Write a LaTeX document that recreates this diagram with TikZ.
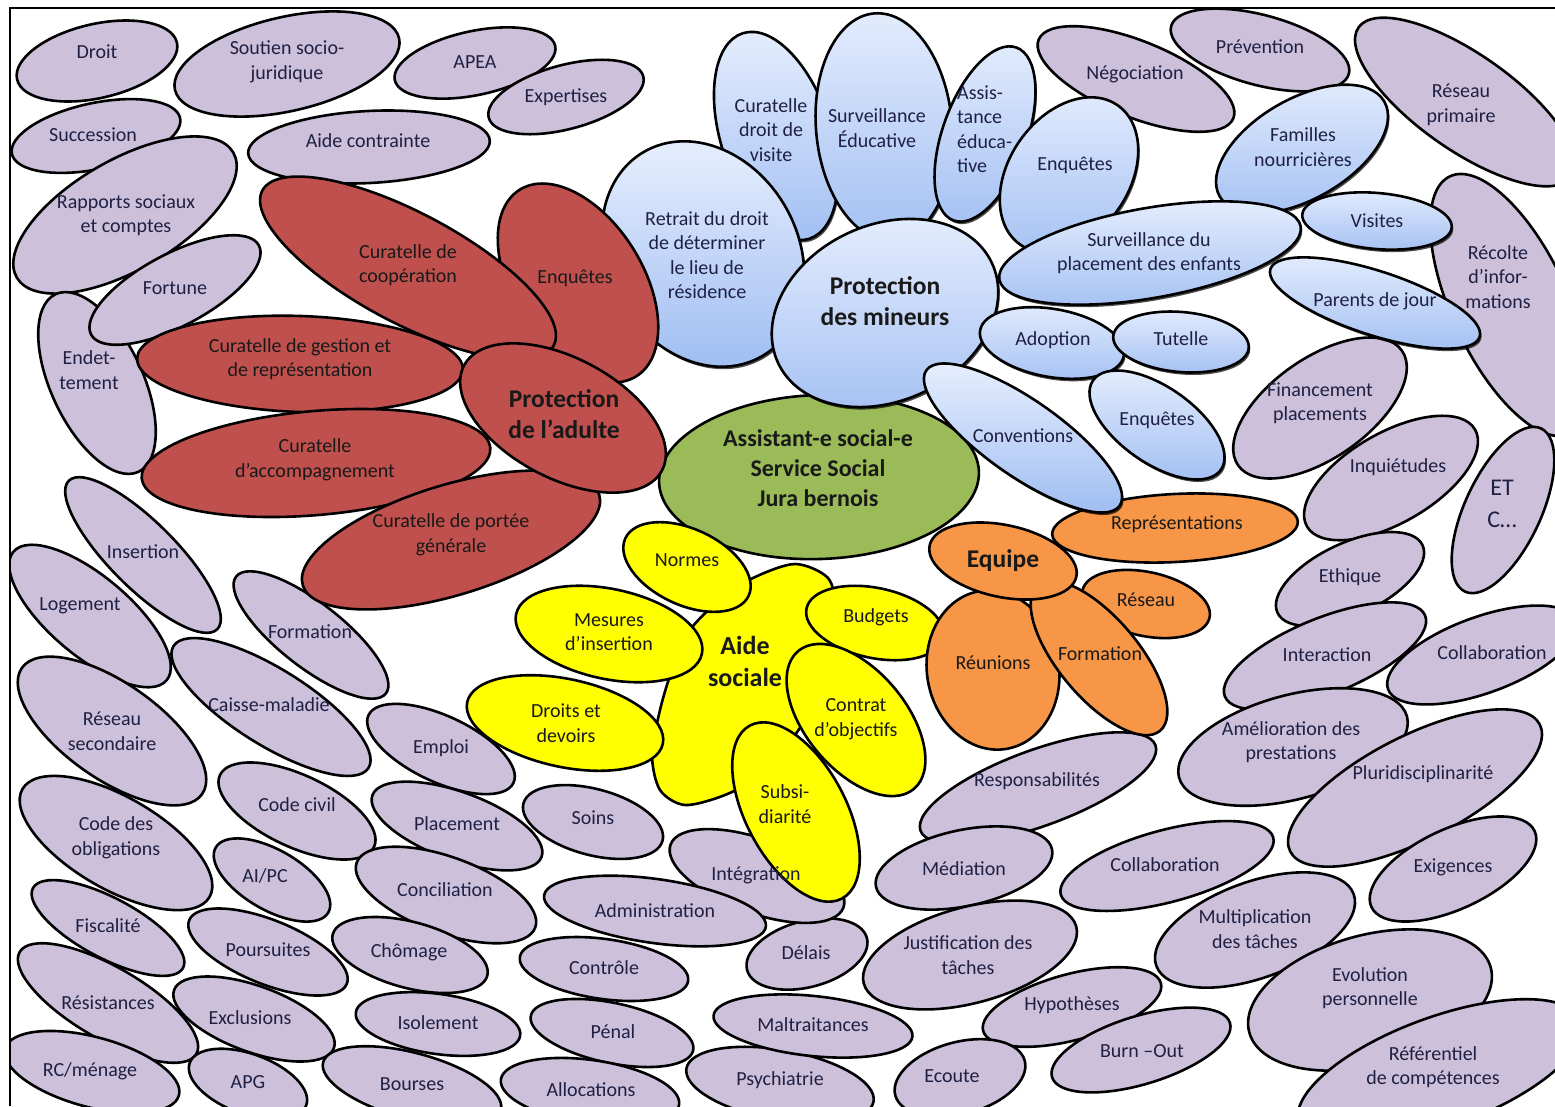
\documentclass[tikz,border=0pt]{standalone}
\usepackage{fontspec}
\setmainfont{Carlito}
\usetikzlibrary{shadows}
\definecolor{purp}{HTML}{CCC0DA}
\definecolor{redc}{HTML}{C0504D}
\definecolor{grn}{HTML}{9BBB59}
\definecolor{org}{HTML}{F79646}
\definecolor{ylw}{HTML}{FFFF00}
\definecolor{bluL}{HTML}{E3ECFD}
\definecolor{bluD}{HTML}{A3C0F3}
\definecolor{navy}{HTML}{1F2044}
\newcommand\bub[6]{\path[#1, rotate around={#6:(#2,#3)}] (#2,#3) ellipse [x radius=#4, y radius=#5];}
\tikzset{
  outl/.style={draw=black, line width=2.6pt},
  pur/.style={outl, fill=purp},
  redb/.style={outl, fill=redc},
  grnb/.style={outl, fill=grn},
  orgb/.style={outl, fill=org},
  ylwb/.style={outl, fill=ylw},
  blub/.style={outl, top color=bluL, bottom color=bluD,
     drop shadow={shadow xshift=1.5pt, shadow yshift=-2.5pt, opacity=0.7, fill=black}},
  lab/.style={align=center, inner sep=0pt, font=\fontsize{20}{24.5}\selectfont, text=navy},
  labk/.style={lab, text=black!90},
  big/.style={align=center, inner sep=0pt, font=\fontsize{25.5}{30.5}\selectfont\bfseries, text=black!90}
}
\begin{document}
\begin{tikzpicture}[x=1pt,y=-1pt]
\useasboundingbox (0,0) rectangle (1555,1106);
\begin{scope}
\clip (11,9) rectangle (1555,1106);
% ---- purple background ellipses
\bub{pur}{97}{61}{82}{37}{13}
\bub{pur}{287}{64}{115}{47}{13}
\bub{pur}{475}{63}{82}{32}{12}
\bub{pur}{566}{97}{80}{32}{15}
\bub{pur}{96}{136}{86}{33}{12}
\bub{pur}{369}{147}{121}{36}{3}
\bub{pur}{125}{215}{125}{55}{30}
\bub{pur}{97}{383}{98}{46}{-65}
\bub{pur}{175}{290}{95}{36}{28}
\bub{pur}{1136}{79}{105}{38}{-22}
\bub{pur}{1260}{50}{92}{35}{-15}
\bub{pur}{1465}{102}{130}{48}{-35}
\bub{pur}{1510}{305}{142}{58}{-65}
\bub{pur}{1320}{408}{100}{50}{35}
\bub{pur}{1391}{478}{97}{45}{30}
\bub{pur}{1503}{510}{90}{38}{65}
\bub{pur}{1350}{579}{80}{36}{25}
\bub{pur}{1325}{656}{108}{38}{22}
\bub{pur}{1482}{655}{100}{38}{20}
\bub{pur}{1293}{747}{118}{52}{15}
\bub{pur}{1415}{788}{140}{52}{27}
\bub{pur}{1038}{788}{125}{38}{20}
\bub{pur}{964}{868}{90}{38}{12}
\bub{pur}{1167}{866}{110}{36}{15}
\bub{pur}{1453}{869}{90}{40}{25}
\bub{pur}{1255}{930}{105}{48}{20}
\bub{pur}{970}{955}{110}{48}{15}
\bub{pur}{1370}{1000}{125}{65}{15}
\bub{pur}{1440}{1072}{150}{55}{20}
\bub{pur}{1072}{1007}{92}{33}{15}
\bub{pur}{1141}{1050}{93}{34}{17}
\bub{pur}{960}{1078}{67}{36}{15}
\bub{pur}{780}{1085}{95}{35}{-10}
\bub{pur}{813}{1026}{100}{30}{-6}
\bub{pur}{807}{954}{62}{33}{15}
\bub{pur}{757}{876}{92}{37}{-20}
\bub{pur}{655}{911}{112}{32}{-8}
\bub{pur}{604}{969}{85}{30}{-8}
\bub{pur}{612}{1033}{83}{30}{-12}
\bub{pur}{590}{1092}{90}{32}{-8}
\bub{pur}{593}{822}{72}{33}{-15}
\bub{pur}{143}{555}{105}{33}{-45}
\bub{pur}{90}{616}{100}{40}{-40}
\bub{pur}{311}{635}{95}{32}{-38}
\bub{pur}{271}{707}{115}{38}{-32}
\bub{pur}{112}{731}{110}{48}{-35}
\bub{pur}{441}{749}{80}{33}{-25}
\bub{pur}{297}{811}{85}{36}{-25}
\bub{pur}{457}{826}{90}{34}{-20}
\bub{pur}{116}{843}{108}{46}{-30}
\bub{pur}{272}{880}{65}{30}{-30}
\bub{pur}{446}{895}{95}{38}{-20}
\bub{pur}{108}{928}{85}{30}{-28}
\bub{pur}{268}{952}{85}{32}{-22}
\bub{pur}{410}{955}{80}{33}{-15}
\bub{pur}{108}{1003}{102}{36}{-30}
\bub{pur}{254}{1019}{85}{33}{-20}
\bub{pur}{438}{1024}{83}{30}{-8}
\bub{pur}{92}{1072}{90}{35}{-15}
\bub{pur}{248}{1084}{62}{30}{-20}
\bub{pur}{412}{1086}{92}{33}{-15}
% ---- centre
\bub{grnb}{819}{477}{160}{82}{2}
% ---- aide sociale
\path[ylwb] plot[smooth cycle] coordinates {(753,578) (795,564) (828,578) (836,610) (830,650) (815,700) (795,735) (760,775) (725,795) (685,805) (660,790) (652,755) (660,710) (672,670) (690,630) (720,600)};
\bub{ylwb}{687}{567}{68}{38}{-25}
\bub{ylwb}{609}{634}{95}{45}{-12}
\bub{ylwb}{565}{723}{100}{44}{-12}
\bub{ylwb}{875}{623}{70}{35}{-12}
\bub{ylwb}{856}{720}{90}{50}{-50}
\bub{ylwb}{796}{812}{98}{50}{-62}
% ---- equipe
\bub{orgb}{1175}{528}{123}{34}{3}
\bub{orgb}{1146}{604}{65}{32}{-12}
\bub{orgb}{993}{670}{80}{66}{-80}
\bub{orgb}{1099}{658}{95}{40}{-50}
\bub{orgb}{1003}{561}{75}{36}{-12}
% ---- protection des mineurs (under)
\bub{blub}{776}{136}{108}{55}{-72}
\bub{blub}{884}{127}{114}{68}{-85}
\bub{blub}{985}{134}{92}{42}{70}
\bub{blub}{1069}{175}{85}{60}{55}
\bub{blub}{703}{254}{118}{95}{-60}
% ---- protection de l'adulte
\bub{redb}{578}{283}{110}{65}{-58}
\bub{redb}{408}{268}{165}{55}{-28}
\bub{redb}{300}{364}{163}{48}{-2}
\bub{redb}{316}{463}{175}{52}{5}
\bub{redb}{451}{540}{155}{55}{17}
\bub{redb}{563}{418}{112}{60}{-28}
% ---- protection des mineurs (over)
\bub{blub}{885}{313}{118}{88}{25}
\bub{blub}{1302}{149}{95}{50}{30}
\bub{blub}{1150}{253}{153}{45}{10}
\bub{blub}{1377}{221}{75}{28}{-5}
\bub{blub}{1375}{303}{110}{32}{-18}
\bub{blub}{1052}{343}{73}{34}{-10}
\bub{blub}{1181}{342}{68}{30}{-5}
\bub{blub}{1157}{425}{78}{38}{-35}
\bub{blub}{1023}{438}{118}{38}{-35}
\end{scope}
\draw[line width=2.4pt] (10,1106) -- (10,8) -- (1555,8);
% ---- texts
\node[lab] (t1) at (97,52) {Droit};
\node[lab] (t2) at (287,62) {Soutien socio-\\juridique};
\node[lab] (t3) at (475,62) {APEA};
\node[lab] (t4) at (566,97) {Expertises};
\node[lab] (t5) at (93,135) {Succession};
\node[lab] (t6) at (368,141) {Aide contrainte};
\node[lab] (t7) at (126,215) {Rapports sociaux\\et comptes};
\node[lab] (t8) at (175,288) {Fortune};
\node[lab] (t9) at (89,370) {Endet-\\tement};
\node[labk] (r1) at (408,265) {Curatelle de\\coopération};
\node[labk] (r2) at (575,278) {Enquêtes};
\node[labk] (r3) at (300,359) {Curatelle de gestion et\\de représentation};
\node[labk] (r4) at (315,460) {Curatelle\\d’accompagnement};
\node[big] (r5) at (564,414) {Protection\\de l’adulte};
\node[labk] (r6) at (451,535) {Curatelle de portée\\générale};
\node[lab] (b1) at (771,130) {Curatelle\\droit de\\visite};
\node[lab] (b2) at (877,128) {Surveillance\\Éducative};
\node[lab, align=left, anchor=west] (b3) at (957,129) {Assis-\\tance\\éduca-\\tive};
\node[lab] (b4) at (1075,165) {Enquêtes};
\node[lab] (b5) at (707,255) {Retrait du droit\\de déterminer\\le lieu de\\résidence};
\node[big] (b6) at (885,301) {Protection\\des mineurs};
\node[lab] (b7) at (1149,253) {Surveillance du\\placement des enfants};
\node[lab] (b8) at (1303,147) {Familles\\nourricières};
\node[lab] (b9) at (1377,221) {Visites};
\node[lab] (b10) at (1375,301) {Parents de jour};
\node[lab] (b11) at (1053,340) {Adoption};
\node[lab] (b12) at (1181,339) {Tutelle};
\node[lab] (b13) at (1157,420) {Enquêtes};
\node[lab] (b14) at (1023,436) {Conventions};
\node[big, font=\fontsize{24}{30}\selectfont\bfseries] (c) at (818,468) {Assistant-e social-e\\Service Social\\Jura bernois};
\node[lab] (u1) at (1135,74) {Négociation};
\node[lab] (u2) at (1260,47) {Prévention};
\node[lab] (u3) at (1461,105) {Réseau\\primaire};
\node[lab] (u4) at (1498,277) {Récolte\\d’infor-\\mations};
\node[lab] (u5) at (1320,403) {Financement\\placements};
\node[lab] (u6) at (1398,467) {Inquiétudes};
\node[lab, font=\fontsize{24}{32}\selectfont] (u7) at (1502,504) {ET\\C…};
\node[labk] (o1) at (1177,524) {Représentations};
\node[lab] (u8) at (1350,577) {Ethique};
\node[lab] (u9) at (1327,655) {Interaction};
\node[lab] (u10) at (1492,653) {Collaboration};
\node[lab] (u11) at (1291,742) {Amélioration des\\prestations};
\node[lab] (u12) at (1423,774) {Pluridisciplinarité};
\node[lab] (u13) at (1037,781) {Responsabilités};
\node[lab] (u14) at (964,869) {Médiation};
\node[lab] (u15) at (1165,865) {Collaboration};
\node[lab] (u16) at (1453,867) {Exigences};
\node[lab] (u17) at (1255,929) {Multiplication\\des tâches};
\node[lab] (u18) at (968,955) {Justification des\\tâches};
\node[lab] (u19) at (1370,988) {Evolution\\personnelle};
\node[lab] (u20) at (1433,1067) {Référentiel\\de compétences};
\node[lab] (u21) at (1072,1005) {Hypothèses};
\node[lab] (u22) at (1142,1051) {Burn –Out};
\node[lab] (u23) at (952,1076) {Ecoute};
\node[lab] (d1) at (780,1080) {Psychiatrie};
\node[lab] (d2) at (813,1025) {Maltraitances};
\node[lab] (d3) at (806,953) {Délais};
\node[lab] (d4) at (756,875) {Intégration};
\node[lab] (d5) at (655,911) {Administration};
\node[lab] (d6) at (604,968) {Contrôle};
\node[lab] (d7) at (613,1032) {Pénal};
\node[lab] (d8) at (591,1090) {Allocations};
\node[lab] (d9) at (593,818) {Soins};
\node[big, font=\fontsize{26}{32}\selectfont\bfseries] (y0) at (745,661) {Aide\\sociale};
\node[labk] (y1) at (687,560) {Normes};
\node[labk] (y2) at (609,632) {Mesures\\d’insertion};
\node[labk] (y3) at (876,617) {Budgets};
\node[labk] (y4) at (856,719) {Contrat\\d’objectifs};
\node[labk] (y5) at (566,723) {Droits et\\devoirs};
\node[labk] (y6) at (785,804) {Subsi-\\diarité};
\node[big] (o2) at (1003,561) {Equipe};
\node[labk] (o3) at (993,663) {Réunions};
\node[labk] (o4) at (1100,654) {Formation};
\node[labk] (o5) at (1146,600) {Réseau};
\node[lab] (l1) at (143,552) {Insertion};
\node[lab] (l2) at (80,606) {Logement};
\node[lab] (l3) at (310,632) {Formation};
\node[lab] (l4) at (269,705) {Caisse-maladie};
\node[lab] (l5) at (112,731) {Réseau\\secondaire};
\node[lab] (l6) at (441,748) {Emploi};
\node[lab] (l7) at (297,805) {Code civil};
\node[lab] (l8) at (457,824) {Placement};
\node[lab] (l9) at (116,838) {Code des\\obligations};
\node[lab] (l10) at (265,876) {AI/PC};
\node[lab] (l11) at (445,890) {Conciliation};
\node[lab] (l12) at (108,926) {Fiscalité};
\node[lab] (l13) at (268,950) {Poursuites};
\node[lab] (l14) at (409,952) {Chômage};
\node[lab] (l15) at (108,1003) {Résistances};
\node[lab] (l16) at (250,1018) {Exclusions};
\node[lab] (l17) at (438,1023) {Isolement};
\node[lab] (l18) at (90,1071) {RC/ménage};
\node[lab] (l19) at (248,1082) {APG};
\node[lab] (l20) at (412,1084) {Bourses};
\end{tikzpicture}
\end{document}
